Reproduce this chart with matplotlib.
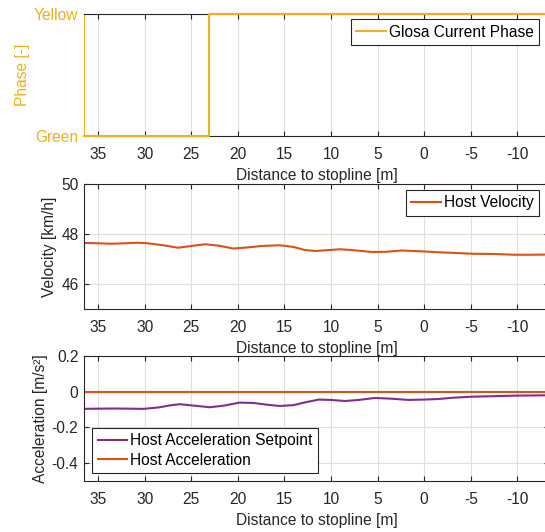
import matplotlib
matplotlib.use("Agg")
import matplotlib.pyplot as plt

# colours (MATLAB default order)
YELLOW = "#EDB120"
ORANGE = "#D95319"
PURPLE = "#7E2F8E"
DARK = "#262626"

# glosa phase (0 = Green, 1 = Yellow)
dist_phase = [36.5, 23.1, 23.1, -13.4]
phase = [0, 0, 1, 1]
phase_ticks = [0, 1]
phase_labels = ["Green", "Yellow"]

# host velocity
dist_v = [36.5, 35.0, 33.7, 32.0, 30.8, 29.7, 28.0, 26.4, 25.0, 23.5, 22.0,
          20.5, 19.0, 17.5, 15.5, 14.0, 12.8, 11.7, 10.5, 9.0, 7.5, 5.6, 4.0,
          2.4, 0.5, -1.5, -3.5, -5.1, -7.5, -9.7, -11.5, -13.5]
velocity = [47.64, 47.63, 47.61, 47.63, 47.65, 47.63, 47.55, 47.45, 47.52,
            47.59, 47.53, 47.42, 47.46, 47.52, 47.55, 47.48, 47.36, 47.32,
            47.35, 47.39, 47.35, 47.28, 47.29, 47.34, 47.31, 47.27, 47.24,
            47.21, 47.20, 47.17, 47.17, 47.18]

# host acceleration setpoint and actual acceleration
dist_a = [36.5, 35.0, 33.3, 31.5, 30.1, 28.5, 27.2, 26.2, 24.5, 23.0, 21.5,
          19.8, 18.3, 17.0, 15.5, 14.0, 12.8, 11.3, 10.0, 8.5, 7.0, 5.3, 3.5,
          1.7, 0.0, -1.5, -3.0, -5.1, -7.5, -9.7, -13.5]
acc_setpoint = [-0.096, -0.095, -0.094, -0.095, -0.096, -0.088, -0.076,
                -0.070, -0.079, -0.087, -0.078, -0.061, -0.063, -0.072,
                -0.080, -0.075, -0.060, -0.044, -0.046, -0.052, -0.046,
                -0.035, -0.039, -0.046, -0.044, -0.041, -0.034, -0.028,
                -0.025, -0.022, -0.020]
acc_host = [0.0] * len(dist_a)

xticks = [35, 30, 25, 20, 15, 10, 5, 0, -5, -10]

FS = 11.2
plt.rcParams["font.family"] = ["Liberation Sans", "DejaVu Sans"]
plt.rcParams["font.size"] = FS
plt.rcParams["axes.unicode_minus"] = False

W, H = 545, 532
fig = plt.figure(figsize=(W / 100, H / 100), dpi=100)
LEFT, RIGHT = 84, 549


def px_axes(top, bottom):
    return fig.add_axes([LEFT / W, 1 - bottom / H, (RIGHT - LEFT) / W, (bottom - top) / H])


def style(ax, ylabel_x, ylabel, color=DARK):
    ax.set_xlim(36.5, -13.4)
    ax.set_xticks(xticks)
    ax.set_xticklabels([str(t) for t in xticks])
    ax.grid(True, color="#dfdfdf", linewidth=0.8)
    ax.set_axisbelow(True)
    for s in ax.spines.values():
        s.set_color(DARK)
        s.set_linewidth(0.8)
    ax.tick_params(direction="in", length=3.5, width=0.8, colors=DARK,
                   top=True, right=True, labelsize=FS)
    ax.tick_params(axis="x", pad=8)
    ax.tick_params(axis="y", pad=4)
    ax.set_xlabel("Distance to stopline [m]", color=DARK, labelpad=4)
    ax.set_ylabel(ylabel, color=color)
    ax.yaxis.set_label_coords((ylabel_x - LEFT) / (RIGHT - LEFT), 0.5)


def legend(ax, **kw):
    lg = ax.legend(fancybox=False, framealpha=1, edgecolor=DARK, fontsize=FS,
                   handlelength=1.9, handletextpad=0.2, borderpad=0.35,
                   labelspacing=0.3, borderaxespad=0, **kw)
    lg.get_frame().set_linewidth(0.8)
    for t in lg.get_texts():
        t.set_color("black")


# phase panel
ax1 = px_axes(13.5, 136)
style(ax1, 30, "Phase [-]", YELLOW)
ax1.plot(dist_phase, phase, color=YELLOW, linewidth=1.5, label="Glosa Current Phase",
         clip_on=False, zorder=3)
ax1.set_ylim(0, 1)
ax1.set_yticks(phase_ticks)
ax1.set_yticklabels(phase_labels)
ax1.tick_params(axis="y", colors=YELLOW)
ax1.spines["left"].set_color(YELLOW)
ax1.spines["right"].set_color(YELLOW)
legend(ax1, loc="upper right", bbox_to_anchor=(0.979, 0.953))

# velocity panel
ax2 = px_axes(184, 309)
style(ax2, 57, "Velocity [km/h]")
ax2.plot(dist_v, velocity, color=ORANGE, linewidth=1.5, label="Host Velocity")
ax2.set_ylim(45, 50)
ax2.set_yticks([46, 48, 50])
legend(ax2, loc="upper right", bbox_to_anchor=(0.979, 0.952))

# acceleration panel
ax3 = px_axes(356, 481)
style(ax3, 48, "Acceleration [m/s²]")
ax3.plot(dist_a, acc_setpoint, color=PURPLE, linewidth=1.5, label="Host Acceleration Setpoint")
ax3.plot(dist_a, acc_host, color=ORANGE, linewidth=1.5, label="Host Acceleration")
ax3.set_ylim(-0.5, 0.2)
ax3.set_yticks([-0.4, -0.2, 0, 0.2])
ax3.set_yticklabels(["-0.4", "-0.2", "0", "0.2"])
legend(ax3, loc="lower left", bbox_to_anchor=(0.018, 0.062))

fig.savefig("out.png", dpi=100)
